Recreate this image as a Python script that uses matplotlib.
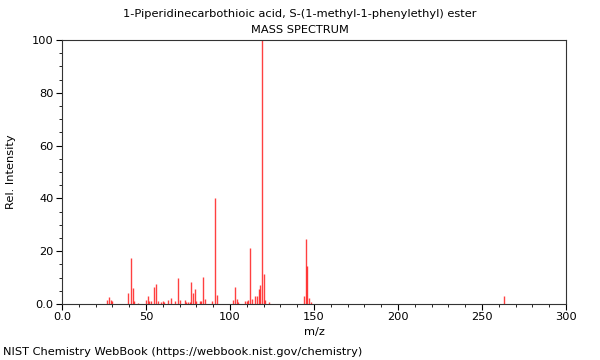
import matplotlib
matplotlib.use("Agg")
import matplotlib.pyplot as plt
from matplotlib.ticker import MultipleLocator, FixedLocator, FixedFormatter

title = "1-Piperidinecarbothioic acid, S-(1-methyl-1-phenylethyl) ester"
subtitle = "MASS SPECTRUM"
footer = "NIST Chemistry WebBook (https://webbook.nist.gov/chemistry)"

mz = [27, 28, 29, 30, 39, 41, 42, 43, 45, 50, 51, 52, 53, 55, 56, 57, 59, 60, 61,
      63, 65, 67, 69, 70, 73, 74, 75, 76, 77, 78, 79, 80, 82, 83, 84, 85, 89, 91, 92,
      102, 103, 104, 105, 109, 110, 111, 112, 113, 115, 116, 117, 118, 119, 120, 121,
      123, 144, 145, 146, 147, 148, 263]
intensity = [1.5, 2.5, 1.5, 1.0, 4.3, 17.3, 5.9, 1.2, 0.5, 1.5, 3.0, 1.0, 1.0, 6.6, 7.6, 1.0, 0.8, 1.0, 0.8,
             1.5, 2.4, 1.0, 9.7, 1.5, 1.5, 0.8, 0.8, 0.8, 8.2, 4.2, 5.5, 1.0, 1.0, 1.0, 10.1, 1.9, 1.0, 40.0, 3.4,
             1.5, 6.6, 2.0, 0.8, 1.0, 1.0, 1.5, 21.3, 2.0, 3.2, 3.0, 5.6, 7.2, 100.0, 11.2, 1.5,
             0.8, 3.2, 24.6, 14.5, 2.1, 0.8, 2.9]

x_ticks = [0, 50, 100, 150, 200, 250, 300]
x_labels = ["0.0", "50", "100", "150", "200", "250", "300"]
y_ticks = [0, 20, 40, 60, 80, 100]
y_labels = ["0.0", "20", "40", "60", "80", "100"]

fig = plt.figure(figsize=(6, 3.6), dpi=100)
ax = fig.add_axes([62/600, 1 - 304/360, (566-62)/600, (304-40)/360])

ax.vlines(mz, 0, intensity, colors="#ff0000", linewidth=1.0, alpha=0.75)

ax.set_xlim(0, 300)
ax.set_ylim(0, 100)
ax.xaxis.set_major_locator(FixedLocator(x_ticks))
ax.xaxis.set_major_formatter(FixedFormatter(x_labels))
ax.xaxis.set_minor_locator(MultipleLocator(10))
ax.yaxis.set_major_locator(FixedLocator(y_ticks))
ax.yaxis.set_major_formatter(FixedFormatter(y_labels))
ax.yaxis.set_minor_locator(MultipleLocator(5))
ax.tick_params(which="major", length=4, width=0.8, labelsize=8.2, direction="out", pad=2)
ax.tick_params(which="minor", length=2, width=0.6, direction="out")
for s in ax.spines.values():
    s.set_linewidth(0.8)
    s.set_color("#333333")

ax.set_xlabel("m/z", fontsize=8.2)
ax.xaxis.set_label_coords(0.5, -(327 - 304) / 264, transform=ax.transAxes)
ax.set_ylabel("Rel. Intensity", fontsize=8.2)
ax.yaxis.set_label_coords(-(62 - 16) / 504, 0.5, transform=ax.transAxes)

fig.text(0.5, 1 - 14/360, title, ha="center", va="center", fontsize=8.2)
fig.text(0.5, 1 - 30/360, subtitle, ha="center", va="center", fontsize=8.2)
fig.text(3/600, 1 - 352/360, footer, ha="left", va="center", fontsize=8.2)

fig.savefig("out.png", dpi=100)
